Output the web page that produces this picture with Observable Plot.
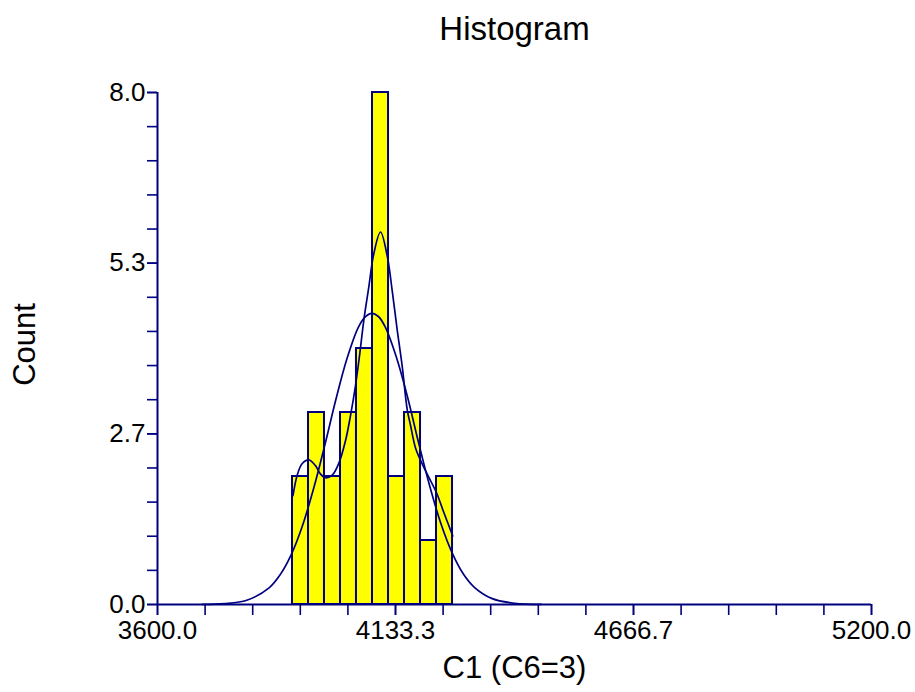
<!DOCTYPE html>
<html>
<head>
<meta charset="utf-8">
<script src="https://cdn.jsdelivr.net/npm/d3@7"></script>
<script src="https://cdn.jsdelivr.net/npm/@observablehq/plot@0.6"></script>
<style>
  html, body { margin: 0; padding: 0; background: #fff; overflow: hidden; }
</style>
</head>
<body>
<div id="chart"></div>
<script>
// ---- data ----
const title = "Histogram";
const xTitle = "C1 (C6=3)";
const yTitle = "Count";

const binEdges = [3902.5, 3938.4, 3974.2, 4010.1, 4045.9, 4081.8, 4117.7, 4153.5, 4189.4, 4225.2, 4261.1];
const counts   = [2, 3, 2, 3, 4, 8, 2, 3, 1, 2];

// fitted normal density (scaled to counts)
const normalX = [3700, 3750, 3800, 3850, 3875, 3900, 3925, 3950, 3975, 4000, 4025, 4050, 4065, 4080, 4095, 4110, 4135, 4160, 4185, 4210, 4235, 4260, 4285, 4310, 4350, 4400, 4460];
const normalY = [0.002, 0.013, 0.066, 0.26, 0.467, 0.784, 1.234, 1.815, 2.49, 3.21, 3.85, 4.33, 4.49, 4.55, 4.50, 4.34, 3.87, 3.25, 2.53, 1.85, 1.265, 0.81, 0.48, 0.269, 0.092, 0.019, 0.002];

// kernel density (scaled to counts), drawn over the data range
const kdeX = [3903.6, 3913, 3924, 3939, 3954, 3965, 3976.5, 3991.5, 4006, 4021, 4032.5, 4043.7, 4053.3, 4062.3, 4073.5, 4084.7, 4099.7, 4114.7, 4126, 4137, 4148.4, 4159.5, 4167, 4178, 4191.6, 4207, 4225, 4241, 4261.7];
const kdeY = [1.70, 2.02, 2.20, 2.26, 2.17, 2.04, 1.98, 2.02, 2.20, 2.55, 2.95, 3.42, 3.92, 4.44, 4.96, 5.48, 5.82, 5.45, 4.90, 4.30, 3.72, 3.05, 2.80, 2.45, 2.22, 2.00, 1.75, 1.45, 1.07];

const xMajorTicks = [3600, 4133.3333, 4666.6667, 5200];
const yMajorTicks = [0, 2.6667, 5.3333, 8];
const xDomain = [3600, 5200];
const yDomain = [0, 8];

// ---- build tables ----
const bars = counts.map((c, i) => ({x1: binEdges[i], x2: binEdges[i + 1], count: c}));
const normal = normalX.map((x, i) => ({x, y: normalY[i]}));
const kde = kdeX.map((x, i) => ({x, y: kdeY[i]}));
const xMinorTicks = d3.range(0, 16).map(i => xDomain[0] + i * (xDomain[1] - xDomain[0]) / 15);
const yMinorTicks = d3.range(0, 16).map(i => yDomain[0] + i * (yDomain[1] - yDomain[0]) / 15);

const navy = "#00007f";
const font = "'Liberation Sans', Arial, Helvetica, sans-serif";

const chart = Plot.plot({
  width: 915,
  height: 692,
  marginLeft: 157,
  marginRight: 44,
  marginTop: 92,
  marginBottom: 88,
  style: {fontFamily: font, fontSize: "26px", color: "#000", background: "#fff", overflow: "visible"},
  x: {domain: xDomain},
  y: {domain: yDomain},
  marks: [
    Plot.rectY(bars, {x1: "x1", x2: "x2", y: "count", fill: "#ffff00", stroke: navy, strokeWidth: 2, insetLeft: 0, insetRight: 0}),
    Plot.line(normal, {x: "x", y: "y", stroke: navy, strokeWidth: 1.7, curve: "catmull-rom"}),
    Plot.line(kde, {x: "x", y: "y", stroke: navy, strokeWidth: 1.7, curve: "catmull-rom"}),
    Plot.ruleY([yDomain[0]], {stroke: navy, strokeWidth: 2}),
    Plot.ruleX([xDomain[0]], {stroke: navy, strokeWidth: 2}),
    Plot.axisX(xMinorTicks, {tickSize: 11, tickFormat: () => "", stroke: navy, strokeWidth: 1.6, label: null}),
    Plot.axisX(xMajorTicks, {tickSize: 11, tickPadding: 5, tickFormat: d => d.toFixed(1), stroke: navy, strokeWidth: 1.6, fill: "#000", fontSize: 26, label: null}),
    Plot.axisY(yMinorTicks, {tickSize: 10, tickFormat: () => "", stroke: navy, strokeWidth: 1.6, label: null}),
    Plot.axisY(yMajorTicks, {tickSize: 10, tickPadding: 2, tickFormat: d => d.toFixed(1), stroke: navy, strokeWidth: 1.6, fill: "#000", fontSize: 26, label: null}),
    Plot.text([title], {frameAnchor: "top", lineAnchor: "middle", dy: -63, fontSize: 33, fill: "#000"}),
    Plot.text([xTitle], {frameAnchor: "bottom", lineAnchor: "middle", dy: 64, fontSize: 31, fill: "#000"}),
    Plot.text([yTitle], {frameAnchor: "left", textAnchor: "middle", lineAnchor: "middle", dx: -132, dy: -4, rotate: -90, fontSize: 31, fill: "#000"})
  ]
});
document.getElementById("chart").appendChild(chart);
</script>
</body>
</html>
